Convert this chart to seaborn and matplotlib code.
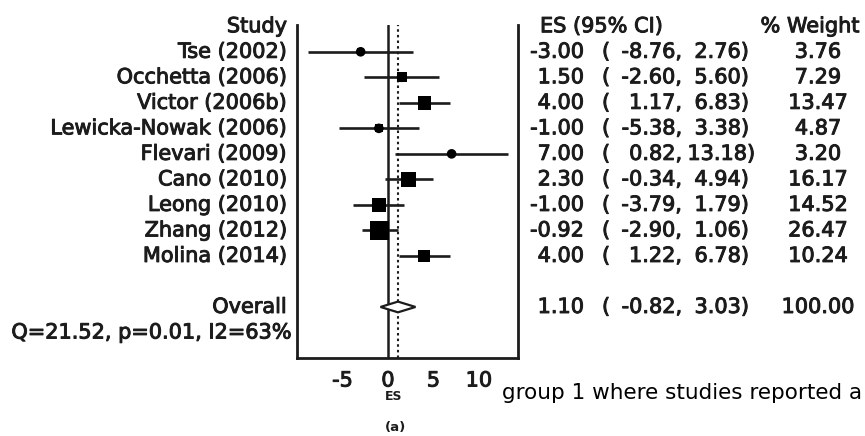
import numpy as np
import pandas as pd
import matplotlib
matplotlib.use("Agg")
import matplotlib.pyplot as plt
import matplotlib.patheffects as pe
import seaborn as sns
from matplotlib.transforms import blended_transform_factory

# Per-study effect sizes, 95% confidence limits and weights
studies = ["Tse (2002)", "Occhetta (2006)", "Victor (2006b)", "Lewicka-Nowak (2006)",
           "Flevari (2009)", "Cano (2010)", "Leong (2010)", "Zhang (2012)", "Molina (2014)"]
es = [-3.00, 1.50, 4.00, -1.00, 7.00, 2.30, -1.00, -0.92, 4.00]
ci_low = [-8.76, -2.60, 1.17, -5.38, 0.82, -0.34, -3.79, -2.90, 1.22]
ci_high = [2.76, 5.60, 6.83, 3.38, 13.18, 4.94, 1.79, 1.06, 6.78]
weights = [3.76, 7.29, 13.47, 4.87, 3.20, 16.17, 14.52, 26.47, 10.24]

# Pooled estimate and heterogeneity statistics
overall_es = 1.10
overall_low = -0.82
overall_high = 3.03
overall_weight = 100.00
heterogeneity = "Q=21.52, p=0.01, I2=63%"

x_ticks = [-5, 0, 5, 10]
caption = "group 1 where studies reported a"

W, H = 865, 436
sns.set_theme(style="white")
plt.rcParams["font.family"] = ["DejaVu Sans"]
ink = "#1c1c1c"
heavy = [pe.withStroke(linewidth=0.7, foreground=ink)]

rows = np.arange(1, len(studies) + 1)
overall_row = len(studies) + 2
df = pd.DataFrame({"study": studies, "es": es, "low": ci_low, "high": ci_high,
                   "weight": weights, "row": rows})

fig = plt.figure(figsize=(W / 100, H / 100), dpi=100)
ax = fig.add_axes([297 / W, 1 - 358 / H, (518 - 297) / W, (358 - 25) / H])

# Confidence interval whiskers
ax.hlines(df["row"], df["low"], df["high"], color=ink, lw=1.9, zorder=2)

# Weight boxes (area proportional to weight) and centre dots
box_max = (19 / 1.389) ** 2
sns.scatterplot(data=df, x="es", y="row", size="weight", sizes=(0, box_max),
                size_norm=(0, max(weights)), marker="s", color="black",
                edgecolor="none", legend=False, ax=ax, zorder=3)
sns.scatterplot(data=df, x="es", y="row", marker="o", s=48, color="black",
                edgecolor="none", legend=False, ax=ax, zorder=4)

# Pooled diamond
h = 0.21
ax.fill([overall_low, overall_es, overall_high, overall_es],
        [overall_row, overall_row - h, overall_row, overall_row + h],
        facecolor="white", edgecolor=ink, lw=1.6, zorder=4)

# Reference lines: no effect and pooled effect
ax.axvline(0, color=ink, lw=1.8, zorder=1)
ax.axvline(overall_es, color=ink, lw=1.5, ls=(0, (1.2, 1.5)), zorder=1)

ax.set_xlim(-10.0, 14.3)
ax.set_ylim(13.0, -0.05)
ax.set_xticks(x_ticks)
ax.set_xticklabels([str(t) for t in x_ticks], fontsize=15, color=ink)
for lab in ax.get_xticklabels():
    lab.set_path_effects(heavy)
ax.set_yticks([])
ax.set_ylabel("")
ax.tick_params(axis="x", length=0, pad=9)
for side in ["left", "right", "bottom"]:
    ax.spines[side].set_visible(True)
    ax.spines[side].set_color(ink)
    ax.spines[side].set_linewidth(2.0)
ax.spines["top"].set_visible(False)
ax.set_xlabel("ES", fontsize=9, fontweight="bold", color=ink, va="center")
ax.xaxis.set_label_coords((394 - 297) / (518 - 297), (358 - 397) / (358 - 25))

tr = blended_transform_factory(fig.transFigure, ax.transData)
fs = 15


def put(px, row, s, ha):
    ax.text(px / W, row, s, transform=tr, ha=ha, va="center", fontsize=fs,
            color=ink, path_effects=heavy)


def put_interval(row, lo, hi):
    put(602, row, "(", "left")
    put(682, row, f"{lo:.2f},", "right")
    hi_txt = f"{hi:.2f})"
    # wider numbers push the closing bracket to the right, as in a fixed-width table
    put(749 + 6 * (len(hi_txt) - 5), row, hi_txt, "right")


# Column headers
put(287, 0, "Study", "right")
put(540, 0, "ES (95% CI)", "left")
put(810, 0, "% Weight", "center")

# Study rows
for r, name, e, lo, hi, w in zip(rows, studies, es, ci_low, ci_high, weights):
    put(287, r, name, "right")
    put(584, r, f"{e:.2f}", "right")
    put_interval(r, lo, hi)
    put(818, r, f"{w:.2f}", "center")

# Pooled row and heterogeneity
put(287, overall_row, "Overall", "right")
put(292, overall_row + 1, heterogeneity, "right")
put(584, overall_row, f"{overall_es:.2f}", "right")
put_interval(overall_row, overall_low, overall_high)
put(818, overall_row, f"{overall_weight:.2f}", "center")

fig.text(395 / W, 1 - 427 / H, "(a)", ha="center", va="center", fontsize=9.5,
         fontweight="bold", color=ink)
fig.text(502 / W, 1 - 393 / H, caption, ha="left", va="center", fontsize=15.5,
         color="black")

fig.savefig("out.png", dpi=100)
